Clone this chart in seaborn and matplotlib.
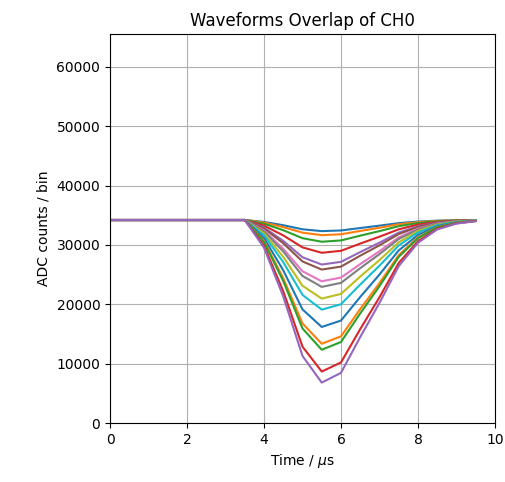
import matplotlib
matplotlib.use("Agg")
import matplotlib.pyplot as plt
import seaborn as sns
import pandas as pd

time_us = [0.0, 0.5, 1.0, 1.5, 2.0, 2.5, 3.0, 3.5, 4.0, 4.5,
           5.0, 5.5, 6.0, 6.5, 7.0, 7.5, 8.0, 8.5, 9.0, 9.5]

flat = [34200] * 8

wf00 = flat + [33880, 33320, 32640, 32330, 32440, 32850, 33250, 33670, 33940, 34090, 34160, 34190]
wf01 = flat + [33770, 33000, 32070, 31650, 31800, 32360, 32900, 33480, 33840, 34050, 34140, 34180]
wf02 = flat + [33580, 32480, 31140, 30540, 30760, 31560, 32330, 33160, 33690, 33990, 34120, 34170]
wf03 = flat + [33260, 31610, 29590, 28680, 29010, 30230, 31390, 32630, 33430, 33880, 34080, 34160]
wf04 = flat + [32930, 30680, 27930, 26700, 27150, 28800, 30380, 32070, 33150, 33770, 34040, 34150]
wf05 = flat + [32780, 30280, 27220, 25850, 26350, 28190, 29940, 31830, 33030, 33720, 34020, 34140]
wf06 = flat + [32450, 29350, 25570, 23880, 24500, 26770, 28940, 31270, 32760, 33600, 33970, 34130]
wf07 = flat + [32280, 28900, 24780, 22930, 23610, 26090, 28450, 31000, 32620, 33550, 33950, 34120]
wf08 = flat + [31950, 27980, 23130, 20960, 21750, 24670, 27450, 30440, 32350, 33430, 33910, 34110]
wf09 = flat + [31630, 27100, 21580, 19100, 20010, 23330, 26500, 29910, 32090, 33320, 33870, 34090]
wf10 = flat + [31140, 25730, 19140, 16180, 17260, 21230, 25010, 29080, 31680, 33150, 33800, 34070]
wf11 = flat + [30660, 24400, 16770, 13350, 14600, 19190, 23570, 28280, 31280, 32990, 33740, 34050]
wf12 = flat + [30480, 23930, 15930, 12340, 13650, 18460, 23050, 27990, 31140, 32930, 33720, 34050]
wf13 = flat + [29860, 22200, 12860, 8670, 10200, 15820, 21180, 26950, 30630, 32720, 33640, 34020]
wf14 = flat + [29540, 21330, 11300, 6810, 8450, 14480, 20230, 26420, 30370, 32610, 33600, 34010]

waveforms = [wf00, wf01, wf02, wf03, wf04, wf05, wf06, wf07,
             wf08, wf09, wf10, wf11, wf12, wf13, wf14]

x_ticks = [0, 2, 4, 6, 8, 10]
y_ticks = [0, 10000, 20000, 30000, 40000, 50000, 60000]

rows = []
for i, wf in enumerate(waveforms):
    for t, v in zip(time_us, wf):
        rows.append({"wave": i, "t": t, "adc": v})
df = pd.DataFrame(rows)

tab10 = sns.color_palette("tab10", 10)
palette = [tab10[i % 10] for i in range(len(waveforms))]

fig = plt.figure(figsize=(5.05, 4.82), dpi=100)
ax = fig.add_axes([0.218, 0.1224, 0.762, 0.807])

sns.lineplot(data=df, x="t", y="adc", hue="wave", palette=palette,
             legend=False, ax=ax, linewidth=1.5, estimator=None, sort=False)

ax.set_xlim(0, 10)
ax.set_ylim(0, 65536)
ax.set_xticks(x_ticks)
ax.set_yticks(y_ticks)
ax.grid(True, color="#b0b0b0", linewidth=0.8)
ax.set_axisbelow(True)
ax.set_title("Waveforms Overlap of CH0", fontsize=12)
ax.set_xlabel(r"Time / $\mu$s", fontsize=10)
ax.set_ylabel("ADC counts / bin", fontsize=10)
ax.tick_params(labelsize=10)

fig.savefig("out.png", dpi=100)
